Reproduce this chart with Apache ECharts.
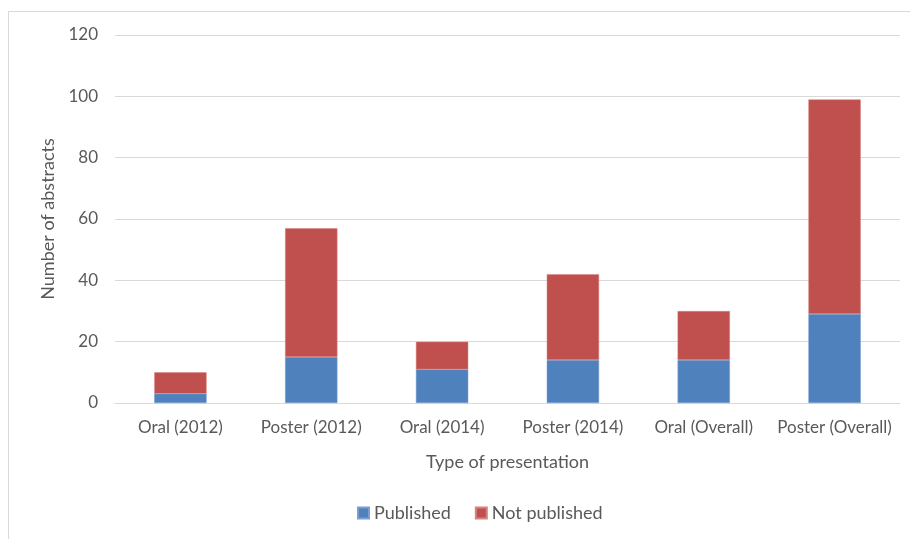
<!DOCTYPE html>
<html>
<head>
<meta charset="utf-8">
<script src="https://cdn.jsdelivr.net/npm/echarts@6/dist/echarts.min.js"></script>
<style>
  html, body { margin: 0; padding: 0; background: #fff; }
  #frame { position: absolute; left: 8px; top: 11px; width: 920px; height: 540px; border: 1px solid #d9d9d9; box-sizing: border-box; }
  #chart { width: 910px; height: 539px; position: absolute; left: 0; top: 0; }
</style>
</head>
<body>
<div id="frame"></div>
<div id="chart"></div>
<script>
var categories = ['Oral (2012)', 'Poster (2012)', 'Oral (2014)', 'Poster (2014)', 'Oral (Overall)', 'Poster (Overall)'];
var published = [3, 15, 11, 14, 14, 29];
var notPublished = [7, 42, 9, 28, 16, 70];
var yTicks = [0, 20, 40, 60, 80, 100, 120];

var chart = echarts.init(document.getElementById('chart'));
var font = 'Lato, "Open Sans", sans-serif';

var option = {
    animation: false,
    textStyle: { fontFamily: font },
    grid: {
        left: 115,
        right: 10,
        top: 35,
        bottom: 136
    },
    legend: {
        bottom: 12,
        left: 352,
        itemWidth: 11,
        itemHeight: 11,
        itemGap: 24,
        icon: 'rect',
        textStyle: { fontSize: 18, color: '#595959', fontFamily: font },
        data: ['Published', 'Not published']
    },
    xAxis: {
        type: 'category',
        data: categories,
        name: 'Type of presentation',
        nameLocation: 'middle',
        nameGap: 50,
        nameTextStyle: { fontSize: 18, color: '#595959' },
        axisLine: { lineStyle: { color: '#d9d9d9', width: 1 } },
        axisTick: { show: false },
        axisLabel: { fontSize: 17, color: '#595959', margin: 16, interval: 0 }
    },
    yAxis: {
        type: 'value',
        min: yTicks[0],
        max: yTicks[yTicks.length - 1],
        interval: 20,
        name: 'Number of abstracts',
        nameLocation: 'middle',
        nameGap: 58,
        nameTextStyle: { fontSize: 18, color: '#595959' },
        axisLine: { show: false },
        axisTick: { show: false },
        axisLabel: { fontSize: 17, color: '#595959', margin: 17 },
        splitLine: { lineStyle: { color: '#d9d9d9', width: 1 } }
    },
    series: [
        {
            name: 'Published',
            type: 'bar',
            stack: 'total',
            barWidth: '40%',
            data: published,
            itemStyle: { color: '#4F81BD', borderColor: '#7a9fd0', borderWidth: 0.5 }
        },
        {
            name: 'Not published',
            type: 'bar',
            stack: 'total',
            barWidth: '40%',
            data: notPublished,
            itemStyle: { color: '#C0504D', borderColor: '#d68480', borderWidth: 0.5 }
        }
    ]
};

chart.setOption(option);
</script>
</body>
</html>
